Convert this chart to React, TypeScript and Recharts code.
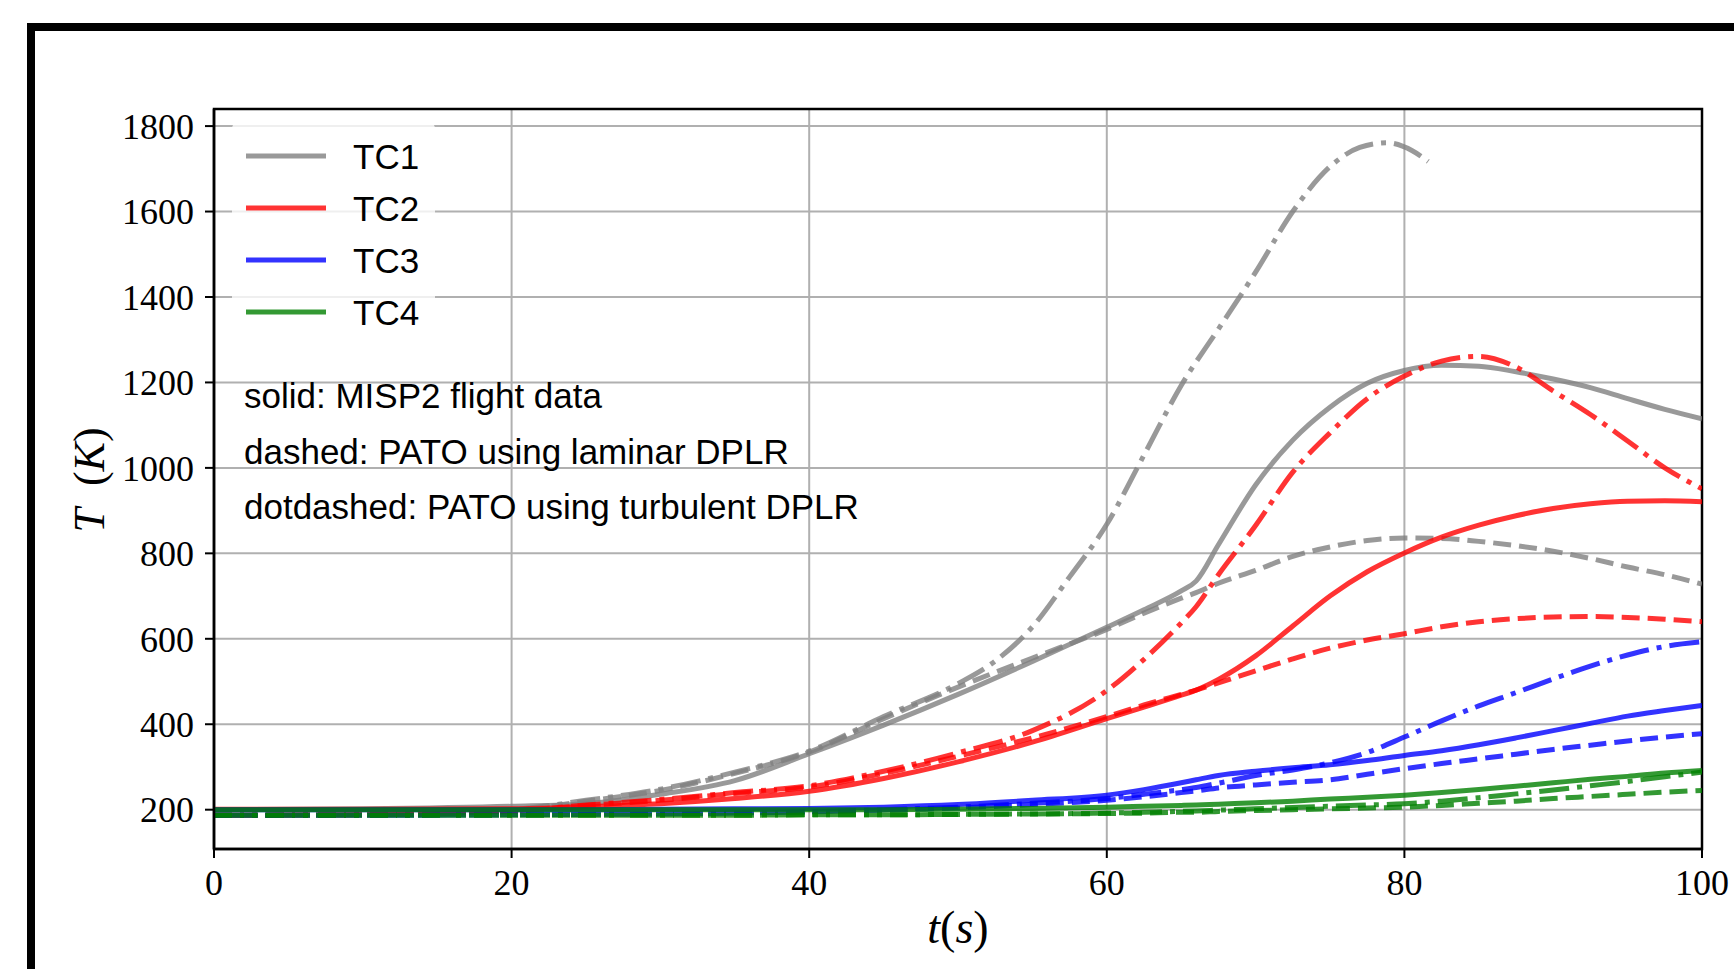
import { LineChart, Line, XAxis, YAxis, CartesianGrid, ReferenceArea } from 'recharts';

// time grid shared by most series (s)
const TIME = [0, 10, 20, 25, 30, 35, 40, 45, 50, 55, 60, 62.5, 65, 66, 67.5, 70, 72.5, 75, 77.5, 80, 82.5, 85, 87.5, 90, 92.5, 95, 97.5, 100];
// TC1 turbulent run stops early
const TIME_TC1_TURB = [0, 10, 20, 25, 30, 35, 40, 45, 50, 52.5, 55, 57.5, 60, 62.5, 65, 67.5, 70, 72.5, 75, 77, 78.8, 80.5, 81.6];

// temperatures (K)
const TC1_FLIGHT = [200, 202, 208, 214, 236, 268, 331, 398, 470, 547, 627, 668, 712, 735, 820, 960, 1065, 1142, 1198, 1228, 1240, 1238, 1225, 1208, 1188, 1162, 1137, 1115];
const TC1_LAM = [187, 189, 198, 220, 245, 285, 335, 413, 487, 555, 622, 660, 695, 708, 730, 760, 793, 815, 830, 836, 835, 828, 818, 805, 788, 768, 750, 728];
const TC1_TURB = [187, 189, 200, 222, 248, 288, 337, 418, 495, 548, 628, 745, 868, 1030, 1193, 1325, 1458, 1600, 1705, 1750, 1761, 1743, 1717];

const TC2_FLIGHT = [201, 201, 202, 207, 214, 226, 243, 273, 312, 358, 413, 440, 468, 480, 505, 560, 630, 700, 757, 801, 838, 866, 888, 905, 916, 922, 923, 921];
const TC2_LAM = [187, 188, 196, 210, 222, 238, 253, 285, 325, 368, 418, 445, 470, 480, 497, 525, 553, 578, 597, 612, 628, 640, 647, 651, 652, 650, 646, 640];
const TC2_TURB = [187, 188, 197, 211, 224, 240, 256, 290, 333, 385, 479, 552, 637, 675, 750, 865, 990, 1082, 1162, 1215, 1250, 1261, 1236, 1180, 1125, 1063, 1000, 951];

const TC3_FLIGHT = [200, 200, 200, 200, 201, 202, 203, 206, 212, 222, 234, 247, 263, 270, 280, 290, 298, 305, 315, 327, 338, 352, 368, 385, 402, 419, 432, 444];
const TC3_LAM = [187, 187, 188, 189, 190, 192, 195, 199, 204, 212, 222, 230, 240, 244, 251, 258, 264, 270, 283, 296, 308, 319, 330, 341, 351, 361, 370, 378];
const TC3_TURB = [187, 187, 188, 189, 190, 192, 195, 200, 206, 215, 226, 236, 247, 252, 262, 280, 293, 310, 334, 370, 408, 443, 474, 506, 536, 562, 582, 593];

const TC4_FLIGHT = [200, 200, 200, 200, 200, 200, 200, 200, 201, 203, 206, 208, 210, 211, 213, 216, 220, 225, 229, 234, 240, 247, 255, 263, 271, 278, 286, 292];
const TC4_LAM = [187, 187, 187, 187, 187, 187, 188, 188, 189, 190, 191, 192, 194, 194, 196, 198, 200, 202, 204, 206, 210, 215, 220, 226, 231, 236, 241, 245];
const TC4_TURB = [187, 187, 187, 187, 187, 187, 188, 188, 189, 190, 192, 194, 196, 197, 199, 202, 205, 208, 211, 214, 220, 228, 237, 246, 256, 266, 277, 288];

const X_TICKS = [0, 20, 40, 60, 80, 100];
const Y_TICKS = [200, 400, 600, 800, 1000, 1200, 1400, 1600, 1800];
const LEGEND_NAMES = ['TC1', 'TC2', 'TC3', 'TC4'];
const NOTES = ['solid: MISP2 flight data', 'dashed: PATO using laminar DPLR', 'dotdashed: PATO using turbulent DPLR'];

const COLORS = ['#808080', '#ff0000', '#0000ff', '#008000'];
const DASHED = '18 8';
const DOTDASH = '30 8 5 8';

const SERIES = [
    { key: 'tc1f', times: TIME, values: TC1_FLIGHT, color: COLORS[0], dash: undefined },
    { key: 'tc1l', times: TIME, values: TC1_LAM, color: COLORS[0], dash: DASHED },
    { key: 'tc1t', times: TIME_TC1_TURB, values: TC1_TURB, color: COLORS[0], dash: DOTDASH },
    { key: 'tc2f', times: TIME, values: TC2_FLIGHT, color: COLORS[1], dash: undefined },
    { key: 'tc2l', times: TIME, values: TC2_LAM, color: COLORS[1], dash: DASHED },
    { key: 'tc2t', times: TIME, values: TC2_TURB, color: COLORS[1], dash: DOTDASH },
    { key: 'tc3f', times: TIME, values: TC3_FLIGHT, color: COLORS[2], dash: undefined },
    { key: 'tc3l', times: TIME, values: TC3_LAM, color: COLORS[2], dash: DASHED },
    { key: 'tc3t', times: TIME, values: TC3_TURB, color: COLORS[2], dash: DOTDASH },
    { key: 'tc4f', times: TIME, values: TC4_FLIGHT, color: COLORS[3], dash: undefined },
    { key: 'tc4l', times: TIME, values: TC4_LAM, color: COLORS[3], dash: DASHED },
    { key: 'tc4t', times: TIME, values: TC4_TURB, color: COLORS[3], dash: DOTDASH },
];

// one table keyed by t, null where a series has no sample
const allTimes = Array.from(new Set([...TIME, ...TIME_TC1_TURB])).sort((a, b) => a - b);
const rows = allTimes.map((t) => {
    const row: Record<string, number | null> = { t };
    SERIES.forEach((s) => {
        const i = s.times.indexOf(t);
        row[s.key] = i >= 0 ? s.values[i] : null;
    });
    return row;
});

const SERIF = '"Liberation Serif", "DejaVu Serif", serif';
const SANS = '"Liberation Sans", Arial, sans-serif';

export default function App() {
    return (
        <div style={{ position: 'absolute', left: 0, top: 0, width: 1734, height: 969, overflow: 'hidden', background: '#fff' }}>
            <div
                style={{
                    position: 'absolute',
                    left: 27,
                    top: 23,
                    width: 2000,
                    height: 2000,
                    borderLeft: '8px solid #000',
                    borderTop: '8px solid #000',
                }}
            />
            <LineChart width={1734} height={969} data={rows} margin={{ top: 109, right: 32, bottom: 0, left: 0 }}>
                <CartesianGrid stroke="#b0b0b0" strokeWidth={2} />
                <XAxis
                    dataKey="t"
                    type="number"
                    domain={[0, 100]}
                    ticks={X_TICKS}
                    allowDataOverflow
                    height={120}
                    tickSize={9}
                    tickMargin={11}
                    axisLine={{ stroke: '#000', strokeWidth: 2.5 }}
                    tickLine={{ stroke: '#000', strokeWidth: 2 }}
                    tick={{ fill: '#000', fontSize: 36, fontFamily: SERIF }}
                />
                <YAxis
                    type="number"
                    domain={[108, 1840]}
                    ticks={Y_TICKS}
                    allowDataOverflow
                    width={214}
                    tickSize={9}
                    tickMargin={11}
                    axisLine={{ stroke: '#000', strokeWidth: 2.5 }}
                    tickLine={{ stroke: '#000', strokeWidth: 2 }}
                    tick={{ fill: '#000', fontSize: 36, fontFamily: SERIF }}
                />
                <ReferenceArea x1={0} x2={100} y1={108} y2={1840} fill="none" stroke="#000" strokeWidth={2.5} />
                {SERIES.map((s) => (
                    <Line
                        key={s.key}
                        dataKey={s.key}
                        type="monotone"
                        stroke={s.color}
                        strokeOpacity={0.8}
                        strokeWidth={5}
                        strokeDasharray={s.dash}
                        dot={false}
                        activeDot={false}
                        connectNulls
                        isAnimationActive={false}
                    />
                ))}
            </LineChart>
            <svg width={1734} height={969} style={{ position: 'absolute', left: 0, top: 0, pointerEvents: 'none' }}>
                <rect x={232} y={121} width={203} height={224} rx={8} fill="#fff" fillOpacity={0.8} />
                {LEGEND_NAMES.map((name, i) => (
                    <g key={name}>
                        <line x1={246} x2={326} y1={156 + i * 52} y2={156 + i * 52} stroke={COLORS[i]} strokeOpacity={0.8} strokeWidth={5} />
                        <text x={353} y={168.5 + i * 52} fontSize={35} fontFamily={SANS} fill="#000">
                            {name}
                        </text>
                    </g>
                ))}
                {NOTES.map((note, i) => (
                    <text key={note} x={244} y={408 + i * 55.5} fontSize={35} fontFamily={SANS} fill="#000">
                        {note}
                    </text>
                ))}
                <text x={958} y={943} fontSize={46} fontFamily={SERIF} textAnchor="middle" fill="#000">
                    <tspan fontStyle="italic">t</tspan>
                    <tspan>(</tspan>
                    <tspan fontStyle="italic">s</tspan>
                    <tspan>)</tspan>
                </text>
                <text
                    x={0}
                    y={0}
                    fontSize={44}
                    fontFamily={SERIF}
                    textAnchor="middle"
                    fill="#000"
                    transform="translate(104,480) rotate(-90)"
                    style={{ whiteSpace: 'pre' }}
                >
                    <tspan fontStyle="italic">T</tspan>
                    <tspan>{'  ('}</tspan>
                    <tspan fontStyle="italic">K</tspan>
                    <tspan>)</tspan>
                </text>
            </svg>
        </div>
    );
}
